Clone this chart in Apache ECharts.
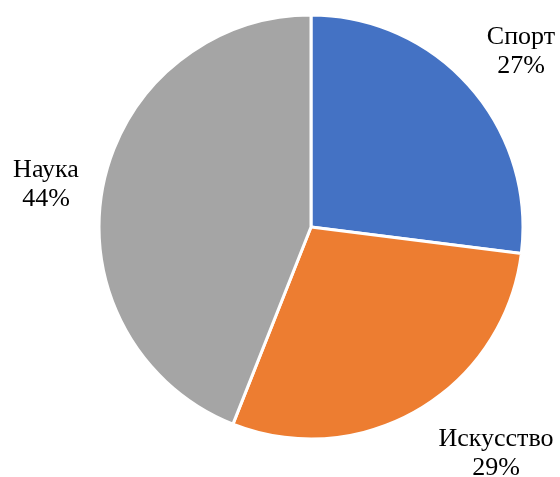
<!DOCTYPE html>
<html>
<head>
<meta charset="utf-8">
<script src="https://cdn.jsdelivr.net/npm/echarts@6/dist/echarts.min.js"></script>
<style>
  html, body { margin: 0; padding: 0; background: #fff; }
  #chart { width: 560px; height: 477px; }
</style>
</head>
<body>
<div id="chart"></div>
<script>
// Share of interests, clockwise from 12 o'clock
const categories = ['Спорт', 'Искусство', 'Наука'];
const values = [27, 29, 44];
const colors = ['#4472C4', '#ED7D31', '#A5A5A5'];

// Where each category label sits (centre of text block)
const labelSpots = {
  'Спорт': [521, 52],
  'Искусство': [496, 454],
  'Наука': [46, 185]
};

const chart = echarts.init(document.getElementById('chart'));
chart.setOption({
  animation: false,
  series: [{
    type: 'pie',
    center: [311, 227],
    radius: [0, 212],
    startAngle: 90,
    clockwise: true,
    avoidLabelOverlap: false,
    data: categories.map((name, i) => ({
      name,
      value: values[i],
      itemStyle: { color: colors[i] }
    })),
    itemStyle: { borderColor: '#fff', borderWidth: 3 },
    label: {
      show: true,
      position: 'outside',
      formatter: p => p.name + '\n' + p.value + '%',
      fontFamily: '"Liberation Serif", "Times New Roman", serif',
      fontSize: 26,
      lineHeight: 29,
      color: '#000',
      align: 'center',
      overflow: 'none',
      width: 200
    },
    labelLine: { show: false },
    labelLayout: params => {
      const name = categories[params.dataIndex];
      const spot = labelSpots[name];
      return { x: spot[0], y: spot[1], align: 'center', verticalAlign: 'middle' };
    },
    emphasis: { disabled: true }
  }]
});
</script>
</body>
</html>
